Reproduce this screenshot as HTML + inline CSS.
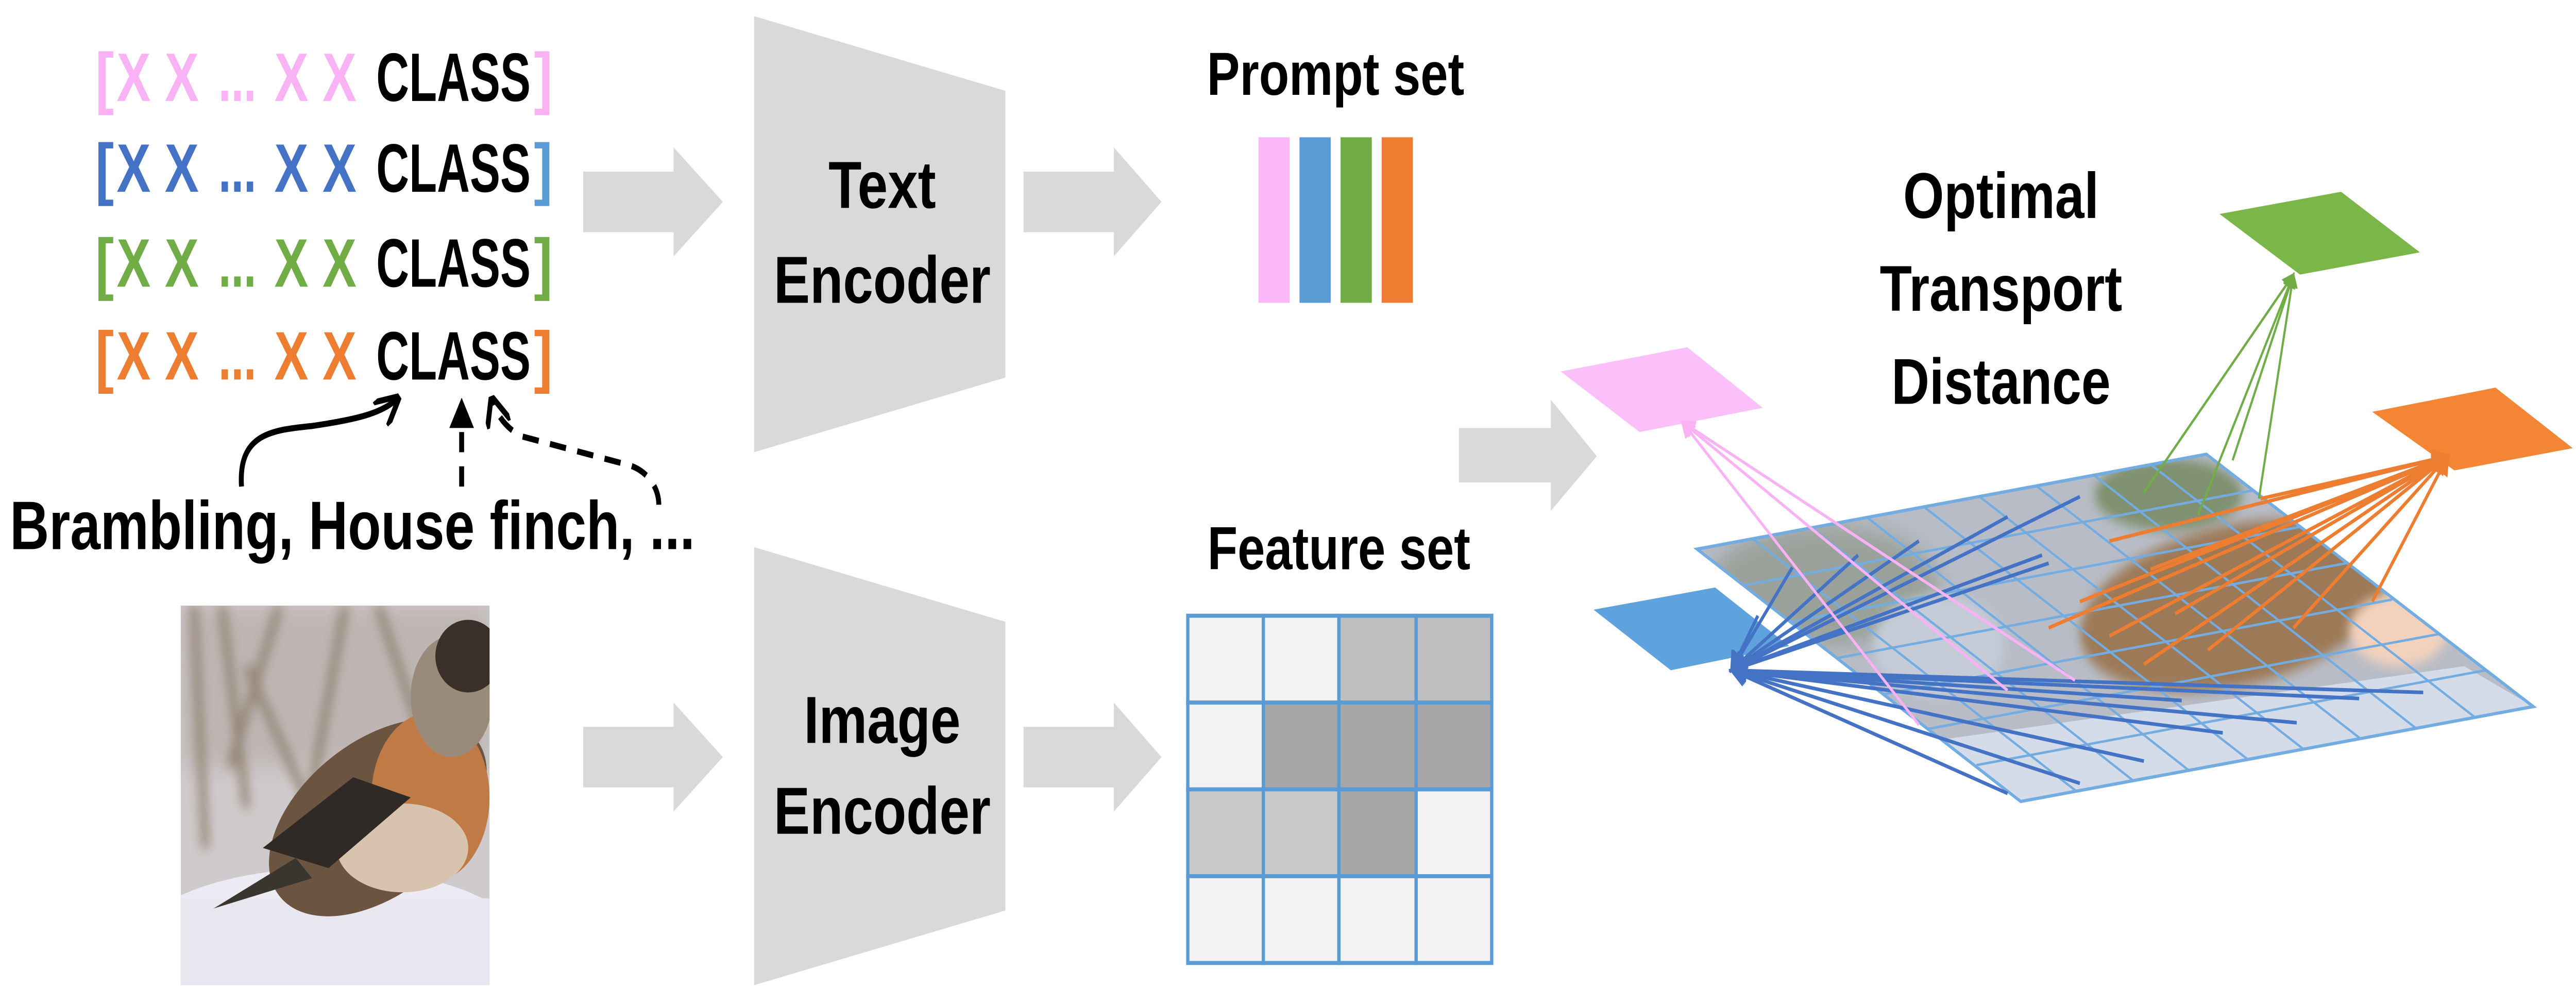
<!DOCTYPE html>
<html><head><meta charset="utf-8"><style>
html,body{margin:0;padding:0;background:#fff;width:100%;height:100%;overflow:hidden;}
svg{display:block;position:fixed;left:0;top:0;width:100vw;height:100vh;}
text{font-family:"Liberation Sans",sans-serif;font-weight:bold;}
</style></head><body>
<svg viewBox="0 0 1568 488.4" preserveAspectRatio="none" xmlns="http://www.w3.org/2000/svg">
<defs>
<marker id="ab" markerWidth="6" markerHeight="6" refX="5" refY="3" orient="auto" markerUnits="strokeWidth"><path d="M0,0 L6,3 L0,6 Z" fill="#4472C4"/></marker>
<marker id="ap" markerWidth="6" markerHeight="6" refX="5" refY="3" orient="auto" markerUnits="strokeWidth"><path d="M0,0 L6,3 L0,6 Z" fill="#F9B3F4"/></marker>
<marker id="ag" markerWidth="6" markerHeight="6" refX="5" refY="3" orient="auto" markerUnits="strokeWidth"><path d="M0,0 L6,3 L0,6 Z" fill="#70AD47"/></marker>
<marker id="ao" markerWidth="6" markerHeight="6" refX="5" refY="3" orient="auto" markerUnits="strokeWidth"><path d="M0,0 L6,3 L0,6 Z" fill="#ED7D31"/></marker>
<marker id="ak" markerWidth="5" markerHeight="5" refX="4" refY="2.5" orient="auto" markerUnits="strokeWidth"><path d="M0,0 L5,2.5 L0,5" fill="none" stroke="#000" stroke-width="1"/></marker>
<marker id="akf" markerWidth="5" markerHeight="5" refX="4" refY="2.5" orient="auto" markerUnits="strokeWidth"><path d="M0,0 L5,2.5 L0,5 Z" fill="#000"/></marker>
<clipPath id="photo"><rect x="110" y="300" width="188" height="188"/></clipPath>
<clipPath id="plane"><polygon points="1033,272 1343,225 1542,350 1230,397"/></clipPath>
<filter id="bl"><feGaussianBlur stdDeviation="3"/></filter>
<filter id="bl2"><feGaussianBlur stdDeviation="6"/></filter>
</defs>

<g font-size="34">
<g>
<text x="58" y="50" fill="#F9B3F4" font-weight="normal">[</text>
<text x="71" y="50" fill="#F9B3F4" textLength="50" lengthAdjust="spacingAndGlyphs">X X</text>
<text x="133" y="50" fill="#F9B3F4" textLength="23" lengthAdjust="spacingAndGlyphs">...</text>
<text x="167" y="50" fill="#F9B3F4" textLength="50" lengthAdjust="spacingAndGlyphs">X X</text>
<text x="229" y="50" fill="#000" textLength="94" lengthAdjust="spacingAndGlyphs">CLASS</text>
<text x="325" y="50" fill="#F9B3F4" font-weight="normal">]</text>
</g>
<g>
<text x="58" y="95" fill="#4472C4" font-weight="normal">[</text>
<text x="71" y="95" fill="#4472C4" textLength="50" lengthAdjust="spacingAndGlyphs">X X</text>
<text x="133" y="95" fill="#4472C4" textLength="23" lengthAdjust="spacingAndGlyphs">...</text>
<text x="167" y="95" fill="#4472C4" textLength="50" lengthAdjust="spacingAndGlyphs">X X</text>
<text x="229" y="95" fill="#000" textLength="94" lengthAdjust="spacingAndGlyphs">CLASS</text>
<text x="325" y="95" fill="#5B9BD5" font-weight="normal">]</text>
</g>
<g>
<text x="58" y="142" fill="#70AD47" font-weight="normal">[</text>
<text x="71" y="142" fill="#70AD47" textLength="50" lengthAdjust="spacingAndGlyphs">X X</text>
<text x="133" y="142" fill="#70AD47" textLength="23" lengthAdjust="spacingAndGlyphs">...</text>
<text x="167" y="142" fill="#70AD47" textLength="50" lengthAdjust="spacingAndGlyphs">X X</text>
<text x="229" y="142" fill="#000" textLength="94" lengthAdjust="spacingAndGlyphs">CLASS</text>
<text x="325" y="142" fill="#70AD47" font-weight="normal">]</text>
</g>
<g>
<text x="58" y="188" fill="#ED7D31" font-weight="normal">[</text>
<text x="71" y="188" fill="#ED7D31" textLength="50" lengthAdjust="spacingAndGlyphs">X X</text>
<text x="133" y="188" fill="#ED7D31" textLength="23" lengthAdjust="spacingAndGlyphs">...</text>
<text x="167" y="188" fill="#ED7D31" textLength="50" lengthAdjust="spacingAndGlyphs">X X</text>
<text x="229" y="188" fill="#000" textLength="94" lengthAdjust="spacingAndGlyphs">CLASS</text>
<text x="325" y="188" fill="#ED7D31" font-weight="normal">]</text>
</g>
</g>

<path d="M147,241 C145,215 165,213 190,211 C215,208 232,205 241,198" fill="none" stroke="#000" stroke-width="3" marker-end="url(#ak)"/>
<line x1="281" y1="241" x2="281" y2="200" stroke="#000" stroke-width="3" stroke-dasharray="10,7" marker-end="url(#akf)"/>
<path d="M401,250 C401,240 392,232 381,230 L317,216 C308,212 302,205 300,199" fill="none" stroke="#000" stroke-width="3" stroke-dasharray="10,7" marker-end="url(#ak)"/>
<text x="6" y="272" font-size="34" fill="#000" textLength="417" lengthAdjust="spacingAndGlyphs">Brambling, House finch, ...</text>

<g clip-path="url(#photo)">
<rect x="110" y="300" width="188" height="188" fill="#cfcacb"/>
<rect x="110" y="300" width="188" height="80" fill="#bdb6b4" filter="url(#bl2)"/>
<g stroke="#8a7a66" stroke-width="5" filter="url(#bl)" opacity="0.8">
<line x1="118" y1="300" x2="125" y2="420"/><line x1="135" y1="300" x2="150" y2="400"/>
<line x1="170" y1="300" x2="140" y2="380"/><line x1="210" y1="300" x2="190" y2="390"/>
<line x1="230" y1="300" x2="255" y2="360"/><line x1="150" y1="330" x2="200" y2="420"/>
</g>
<ellipse cx="200" cy="470" rx="120" ry="40" fill="#eceaf2"/>
<rect x="110" y="445" width="188" height="45" fill="#e8e6ee"/>
<ellipse cx="230" cy="405" rx="72" ry="40" transform="rotate(-28 230 405)" fill="#6b5440"/>
<ellipse cx="262" cy="395" rx="36" ry="42" fill="#c07a45"/>
<ellipse cx="245" cy="420" rx="40" ry="22" fill="#d8c4ae"/>
<ellipse cx="275" cy="345" rx="25" ry="30" fill="#9a8a7a"/>
<ellipse cx="285" cy="325" rx="20" ry="18" fill="#3a3029"/>
<path d="M160,420 L215,385 L250,395 L200,430 Z" fill="#2f2a26"/>
<path d="M130,450 L180,425 L190,435 Z" fill="#3b3530"/>
</g>

<g fill="#d9d9d9">
<polygon points="355,85 410,85 410,73 440,100 410,127 410,115 355,115"/>
<polygon points="355,360 410,360 410,348 440,375 410,402 410,390 355,390"/>
<polygon points="623,85 678,85 678,73 707,100 678,127 678,115 623,115"/>
<polygon points="623,360 678,360 678,348 707,375 678,402 678,390 623,390"/>
<polygon points="888,212 944,212 944,198 972,226 944,253 944,239 888,239"/>
</g>

<polygon points="459,8 612,45 612,187 459,224" fill="#d9d9d9"/>
<polygon points="459,271 612,308 612,451 459,488" fill="#d9d9d9"/>
<g font-size="33" text-anchor="middle" fill="#000">
<text x="537" y="103">Text</text>
<text x="537" y="150">Encoder</text>
<text x="537" y="368">Image</text>
<text x="537" y="413">Encoder</text>
</g>

<text x="813" y="47" font-size="30" text-anchor="middle">Prompt set</text>
<rect x="766" y="68" width="19" height="82" fill="#FBB7F8"/>
<rect x="791" y="68" width="19" height="82" fill="#5B9BD5"/>
<rect x="816" y="68" width="19" height="82" fill="#70AD47"/>
<rect x="841" y="68" width="19" height="82" fill="#ED7D31"/>

<text x="815" y="282" font-size="30" text-anchor="middle">Feature set</text>
<g stroke="#5B9BD5" stroke-width="2">
<rect x="723" y="305" width="46" height="43" fill="#f2f2f2"/>
<rect x="769" y="305" width="46" height="43" fill="#f2f2f2"/>
<rect x="815" y="305" width="47" height="43" fill="#bfbfbf"/>
<rect x="862" y="305" width="46" height="43" fill="#bfbfbf"/>
<rect x="723" y="348" width="46" height="43" fill="#f2f2f2"/>
<rect x="769" y="348" width="46" height="43" fill="#a6a6a6"/>
<rect x="815" y="348" width="47" height="43" fill="#a6a6a6"/>
<rect x="862" y="348" width="46" height="43" fill="#a6a6a6"/>
<rect x="723" y="391" width="46" height="43" fill="#c9c9c9"/>
<rect x="769" y="391" width="46" height="43" fill="#c9c9c9"/>
<rect x="815" y="391" width="47" height="43" fill="#a6a6a6"/>
<rect x="862" y="391" width="46" height="43" fill="#f2f2f2"/>
<rect x="723" y="434" width="46" height="43" fill="#f2f2f2"/>
<rect x="769" y="434" width="46" height="43" fill="#f2f2f2"/>
<rect x="815" y="434" width="47" height="43" fill="#f2f2f2"/>
<rect x="862" y="434" width="46" height="43" fill="#f2f2f2"/>
</g>

<g font-size="32" text-anchor="middle">
<text x="1218" y="108">Optimal</text>
<text x="1218" y="154">Transport</text>
<text x="1218" y="200">Distance</text>
</g>

<g clip-path="url(#plane)">
<polygon points="1033,272 1343,225 1542,350 1230,397" fill="#b8bcc6"/>
<ellipse cx="1110" cy="290" rx="70" ry="30" fill="#9aa19a" filter="url(#bl2)"/>
<ellipse cx="1320" cy="245" rx="45" ry="18" fill="#7f9170" filter="url(#bl)"/>
<ellipse cx="1360" cy="300" rx="95" ry="40" transform="rotate(-10 1360 300)" fill="#9c7a58" filter="url(#bl)"/>
<ellipse cx="1460" cy="312" rx="30" ry="18" fill="#f3d2bd" filter="url(#bl)"/>
<polygon points="1150,370 1500,330 1542,350 1230,397" fill="#d4dcea"/>
<ellipse cx="1180" cy="320" rx="40" ry="25" fill="#c5ccd8" filter="url(#bl)"/>
</g>
<g stroke="#72ACE0" stroke-width="1.2" fill="none">
<polygon points="1033,272 1343,225 1542,350 1230,397" stroke-width="1.6"/>
<line x1="1061" y1="290" x2="1371" y2="243"/><line x1="1090" y1="308" x2="1400" y2="261"/>
<line x1="1118" y1="326" x2="1428" y2="279"/><line x1="1146" y1="344" x2="1456" y2="297"/>
<line x1="1174" y1="361" x2="1485" y2="314"/><line x1="1203" y1="379" x2="1513" y2="332"/>
<line x1="1067" y1="267" x2="1264" y2="392"/><line x1="1102" y1="261" x2="1299" y2="387"/>
<line x1="1136" y1="256" x2="1333" y2="382"/><line x1="1171" y1="251" x2="1368" y2="376"/>
<line x1="1205" y1="246" x2="1402" y2="371"/><line x1="1240" y1="241" x2="1437" y2="366"/>
<line x1="1274" y1="235" x2="1471" y2="361"/><line x1="1309" y1="230" x2="1506" y2="355"/>
</g>

<polygon points="950,184 1027,172 1073,202 998,214" fill="#FBC0FA"/>
<polygon points="1351,106 1425,95 1473,125 1400,136" fill="#7AB648"/>
<polygon points="1444,204 1519,192 1566,222 1494,233" fill="#F48534"/>
<polygon points="970,302 1044,291 1089,320 1017,332" fill="#5EA2DE"/>

<g stroke="#4472C4" stroke-width="1.8" marker-end="url(#ab)">
<line x1="1266" y1="246" x2="1054" y2="332"/><line x1="1222" y1="256" x2="1054" y2="332"/>
<line x1="1168" y1="268" x2="1054" y2="332"/><line x1="1131" y1="275" x2="1054" y2="332"/>
<line x1="1091" y1="281" x2="1054" y2="332"/><line x1="1070" y1="305" x2="1054" y2="332"/>
<line x1="1243" y1="275" x2="1054" y2="332"/><line x1="1247" y1="279" x2="1054" y2="332"/>
<line x1="1475" y1="343" x2="1054" y2="332"/><line x1="1436" y1="346" x2="1054" y2="332"/>
<line x1="1398" y1="358" x2="1054" y2="332"/><line x1="1353" y1="363" x2="1054" y2="332"/>
<line x1="1305" y1="377" x2="1054" y2="332"/><line x1="1266" y1="388" x2="1054" y2="332"/>
<line x1="1222" y1="393" x2="1054" y2="332"/><line x1="1328" y1="347" x2="1054" y2="332"/>
</g>
<g stroke="#F9B3F4" stroke-width="1.5" marker-end="url(#ap)">
<line x1="1168" y1="359" x2="1024" y2="209"/><line x1="1222" y1="342" x2="1024" y2="209"/>
<line x1="1263" y1="337" x2="1024" y2="209"/>
</g>
<g stroke="#70AD47" stroke-width="1.3" marker-end="url(#ag)">
<line x1="1305" y1="244" x2="1396" y2="136"/><line x1="1338" y1="255" x2="1396" y2="136"/>
<line x1="1359" y1="228" x2="1396" y2="136"/><line x1="1375" y1="247" x2="1396" y2="136"/>
</g>
<g stroke="#ED7D31" stroke-width="1.8" marker-end="url(#ao)">
<line x1="1284" y1="268" x2="1490" y2="226"/><line x1="1266" y1="298" x2="1490" y2="226"/>
<line x1="1247" y1="311" x2="1490" y2="226"/><line x1="1284" y1="315" x2="1490" y2="226"/>
<line x1="1305" y1="329" x2="1490" y2="226"/><line x1="1344" y1="322" x2="1490" y2="226"/>
<line x1="1396" y1="311" x2="1490" y2="226"/><line x1="1444" y1="298" x2="1490" y2="226"/>
<line x1="1324" y1="304" x2="1490" y2="226"/><line x1="1309" y1="282" x2="1490" y2="226"/>
<line x1="1376" y1="247" x2="1490" y2="226"/>
</g>
</svg>
</body></html>
